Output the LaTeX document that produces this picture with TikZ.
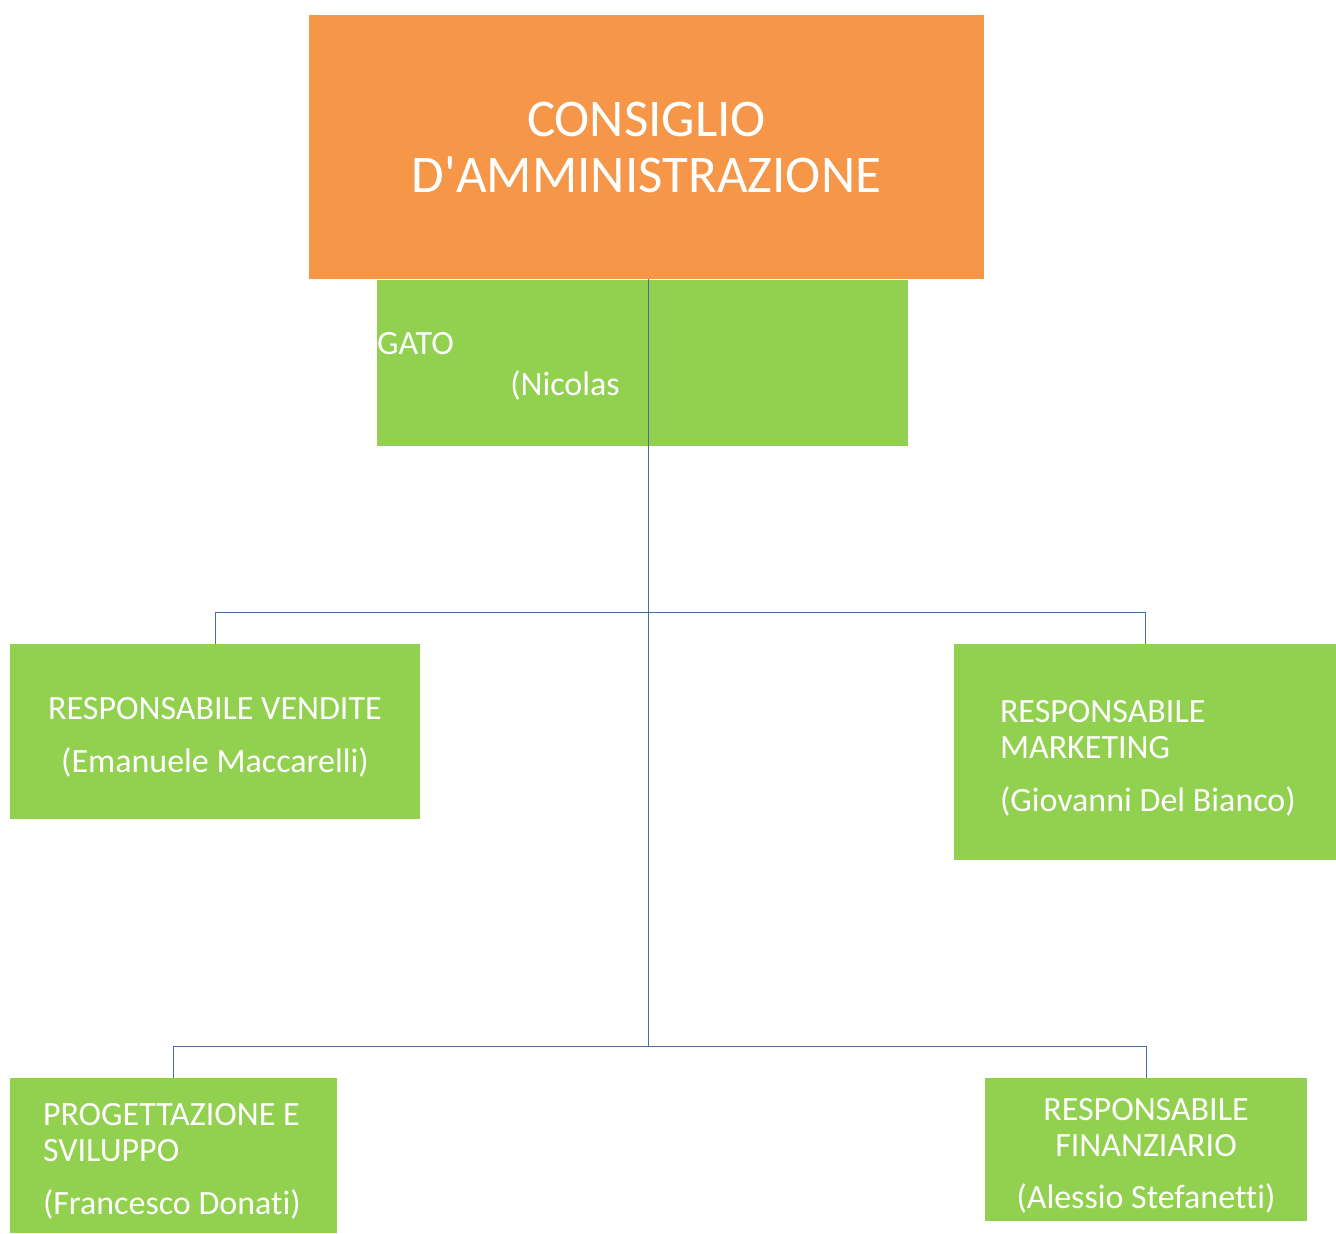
\documentclass[tikz,border=0pt]{standalone}
\usepackage{fontspec}
\setmainfont{Carlito}[Ligatures=NoCommon]
\definecolor{boardorange}{RGB}{246,150,72}
\definecolor{unitgreen}{RGB}{146,208,80}
\definecolor{linkblue}{RGB}{65,113,156}
\newcommand{\boxstrut}{\rule{0pt}{34pt}}
\tikzset{
  unitbox/.style={fill=unitgreen, text=white, inner sep=0pt, align=center,
    font=\fontsize{34}{36}\selectfont},
  link/.style={draw=linkblue, line width=1pt}
}

\begin{document}
\begin{tikzpicture}[x=1pt, y=-1pt]
\useasboundingbox (0,0) rectangle (1336,1234);
% board
\node[fill=boardorange, text=white, align=center, inner sep=0pt,
  minimum width=675pt, minimum height=264pt,
  font=\fontsize{53}{56}\selectfont] (board) at (646.5,147)
  {CONSIGLIO\\D\textquotesingle AMMINISTRAZIONE};
% managing director
\node[fill=unitgreen, minimum width=531pt, minimum height=166pt] (ceo) at (642.5,363) {};
\node[text=white, inner sep=0pt, anchor=base west,
  font=\fontsize{34}{36}\selectfont] (ceotitle) at (377,354) {GATO};
\node[text=white, inner sep=0pt, anchor=base east,
  font=\fontsize{34}{36}\selectfont] (ceoname) at (620,395) {(Nicolas};
% first level
\node[unitbox, minimum width=410pt, minimum height=175pt] (sales) at (215,731.5)
  {\boxstrut RESPONSABILE VENDITE\\[17pt](Emanuele Maccarelli)};
\node[unitbox, align=flush left, inner xsep=46pt, text width=290pt,
  minimum height=216pt] (marketing) at (1145,752)
  {\boxstrut RESPONSABILE\\MARKETING\\[17pt]\mbox{(Giovanni Del Bianco)}};
% second level
\node[unitbox, align=flush left, inner xsep=33pt, text width=261pt,
  minimum height=155pt] (design) at (173.5,1155.5)
  {\boxstrut PROGETTAZIONE E\\SVILUPPO\\[17pt](Francesco Donati)};
\node[unitbox, minimum width=322pt, minimum height=143pt] (finance) at (1146,1149.5)
  {\boxstrut RESPONSABILE\\FINANZIARIO\\[16pt](Alessio Stefanetti)};
% connectors
\coordinate (split1) at (648,612);
\coordinate (split2) at (648,1046);
\draw[link] (board.south -| split1) -- (split2);
\draw[link] (split1) -| (sales.north);
\draw[link] (split1) -| (marketing.north);
\draw[link] (split2) -| (design.north);
\draw[link] (split2) -| (finance.north);
\end{tikzpicture}
\end{document}
